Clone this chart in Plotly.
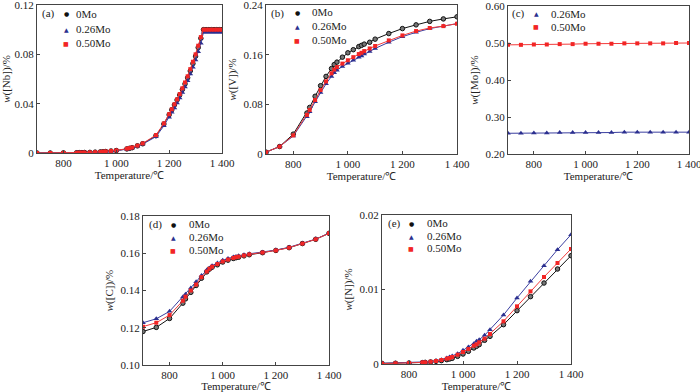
import plotly.graph_objects as go

W, H = 700, 392

# ---------------- data ----------------
T = [700, 750, 800, 850, 860, 880, 900, 920, 940, 950, 960, 980, 1000, 1020,
     1040, 1050, 1060, 1080, 1100, 1150, 1200, 1250, 1300, 1350, 1400]

T_nb = [700, 750, 800, 850, 860, 870, 880, 900, 920, 940, 950, 960, 980, 1000,
        1040, 1050, 1060, 1080, 1100, 1150, 1180, 1200, 1210, 1220, 1230, 1240,
        1250, 1260, 1270, 1280, 1290, 1300, 1310, 1320, 1330, 1340, 1350, 1360,
        1370, 1380, 1390, 1400]
nb_0 = [0, 0, 0.0001, 0.0002, 0.0003, 0.0003, 0.0004, 0.0005, 0.0007, 0.0009,
        0.0010, 0.0012, 0.0016, 0.0020, 0.0033, 0.0038, 0.0043, 0.0058, 0.0075,
        0.0140, 0.0235, 0.0310, 0.0350, 0.0390, 0.0430, 0.0470, 0.0515, 0.0560,
        0.0610, 0.0665, 0.0725, 0.0785, 0.0855, 0.0930, 0.1000, 0.1000, 0.1000,
        0.1000, 0.1000, 0.1000, 0.1000, 0.1000]
nb_26 = [0, 0, 0.0001, 0.0002, 0.0002, 0.0003, 0.0003, 0.0004, 0.0006, 0.0008,
         0.0009, 0.0011, 0.0015, 0.0019, 0.0031, 0.0036, 0.0041, 0.0055, 0.0072,
         0.0132, 0.0220, 0.0290, 0.0330, 0.0365, 0.0405, 0.0445, 0.0490, 0.0535,
         0.0585, 0.0640, 0.0695, 0.0755, 0.0820, 0.0890, 0.0980, 0.0980, 0.0980,
         0.0980, 0.0980, 0.0980, 0.0980, 0.0980]
nb_50 = [0, 0, 0.0001, 0.0002, 0.0003, 0.0003, 0.0004, 0.0005, 0.0007, 0.0009,
         0.0011, 0.0013, 0.0017, 0.0021, 0.0035, 0.0040, 0.0045, 0.0060, 0.0078,
         0.0145, 0.0240, 0.0315, 0.0355, 0.0395, 0.0435, 0.0478, 0.0525, 0.0572,
         0.0622, 0.0680, 0.0740, 0.0800, 0.0870, 0.0940, 0.1000, 0.1000, 0.1000,
         0.1000, 0.1000, 0.1000, 0.1000, 0.1000]

v_0 = [0.003, 0.012, 0.032, 0.066, 0.075, 0.093, 0.110, 0.125, 0.1376, 0.144,
       0.148, 0.156, 0.163, 0.168, 0.173, 0.175, 0.177, 0.180, 0.185, 0.194,
       0.202, 0.208, 0.2136, 0.2176, 0.221]
v_26 = [0.003, 0.012, 0.029, 0.060, 0.068, 0.084, 0.099, 0.113, 0.125, 0.131,
        0.135, 0.141, 0.146, 0.151, 0.156, 0.158, 0.161, 0.165, 0.170, 0.180,
        0.189, 0.196, 0.202, 0.206, 0.210]
v_50 = [0.003, 0.012, 0.030, 0.063, 0.071, 0.087, 0.103, 0.117, 0.130, 0.136,
        0.140, 0.1456, 0.151, 0.156, 0.161, 0.163, 0.1658, 0.170, 0.174, 0.183,
        0.191, 0.198, 0.203, 0.206, 0.210]

T_mo = [700, 750, 800, 850, 900, 950, 1000, 1050, 1100, 1150, 1200, 1250, 1300,
        1350, 1400]
mo_26 = [0.256, 0.256, 0.257, 0.257, 0.258, 0.258, 0.258, 0.258, 0.258, 0.259,
         0.259, 0.259, 0.259, 0.259, 0.259]
mo_50 = [0.495, 0.495, 0.496, 0.496, 0.497, 0.497, 0.498, 0.498, 0.498, 0.499,
         0.499, 0.499, 0.499, 0.500, 0.500]

c_0 = [0.118, 0.1202, 0.125, 0.1332, 0.1355, 0.139, 0.1427, 0.1466, 0.150,
       0.1515, 0.1525, 0.1538, 0.1553, 0.1563, 0.1572, 0.1576, 0.1579, 0.1586,
       0.1592, 0.1603, 0.1615, 0.1630, 0.1652, 0.1675, 0.1707]
c_26 = [0.1227, 0.1248, 0.1288, 0.1365, 0.138, 0.1413, 0.1447, 0.148, 0.151,
        0.152, 0.1533, 0.1548, 0.1562, 0.1572, 0.158, 0.1583, 0.1586, 0.1592,
        0.1597, 0.1606, 0.1617, 0.1632, 0.1653, 0.1676, 0.1708]
c_50 = [0.1206, 0.1227, 0.1268, 0.1345, 0.1367, 0.140, 0.1432, 0.1472, 0.1502,
        0.1517, 0.1528, 0.1542, 0.1556, 0.1566, 0.1575, 0.1579, 0.1582, 0.1588,
        0.1594, 0.1604, 0.1615, 0.1630, 0.1652, 0.1675, 0.1707]

n_0 = [0.00008, 0.0001, 0.00013, 0.00018, 0.00022, 0.00027, 0.00036, 0.00045,
       0.00058, 0.00067, 0.00076, 0.00103, 0.00134, 0.0017, 0.00215, 0.00237,
       0.0026, 0.00318, 0.00371, 0.00528, 0.00716, 0.00904, 0.01087, 0.01275,
       0.01454]
n_26 = [0.0001, 0.00013, 0.00018, 0.00022, 0.00022, 0.00031, 0.00045, 0.00058,
        0.0008, 0.00094, 0.00107, 0.00139, 0.00183, 0.00228, 0.00273, 0.00304,
        0.00327, 0.00385, 0.00461, 0.00658, 0.00886, 0.0111, 0.0132, 0.01535,
        0.01736]
n_50 = [0.00006, 0.0001, 0.00013, 0.00022, 0.00022, 0.00031, 0.0004, 0.00054,
        0.00072, 0.0008, 0.00094, 0.00125, 0.00161, 0.00201, 0.00246, 0.00264,
        0.00291, 0.0034, 0.00403, 0.00573, 0.00774, 0.00975, 0.01168, 0.01356,
        0.01544]

x_ticks = [800, 1000, 1200, 1400]
x_ticktext = ["800", "1 000", "1 200", "1 400"]

panels = [
    dict(tag="(a)", ytitle="<i>w</i>([Nb])/%", yrange=[0, 0.12],
         yticks=[0, 0.04, 0.08, 0.12], yticktext=["0", "0.04", "0.08", "0.12"],
         series=[("0Mo", T_nb, nb_0), ("0.26Mo", T_nb, nb_26), ("0.50Mo", T_nb, nb_50)]),
    dict(tag="(b)", ytitle="<i>w</i>([V])/%", yrange=[0, 0.24],
         yticks=[0, 0.08, 0.16, 0.24], yticktext=["0", "0.08", "0.16", "0.24"],
         series=[("0Mo", T, v_0), ("0.26Mo", T, v_26), ("0.50Mo", T, v_50)]),
    dict(tag="(c)", ytitle="<i>w</i>([Mo])/%", yrange=[0.2, 0.6],
         yticks=[0.2, 0.3, 0.4, 0.5, 0.6],
         yticktext=["0.20", "0.30", "0.40", "0.50", "0.60"],
         series=[("0.26Mo", T_mo, mo_26), ("0.50Mo", T_mo, mo_50)]),
    dict(tag="(d)", ytitle="<i>w</i>([C])/%", yrange=[0.1, 0.18],
         yticks=[0.10, 0.12, 0.14, 0.16, 0.18],
         yticktext=["0.10", "0.12", "0.14", "0.16", "0.18"],
         series=[("0Mo", T, c_0), ("0.26Mo", T, c_26), ("0.50Mo", T, c_50)]),
    dict(tag="(e)", ytitle="<i>w</i>([N])/%", yrange=[0, 0.02],
         yticks=[0, 0.01, 0.02], yticktext=["0", "0.01", "0.02"],
         series=[("0Mo", T, n_0), ("0.26Mo", T, n_26), ("0.50Mo", T, n_50)]),
]

# ---------------- styling ----------------
FONT = "Liberation Serif, Times New Roman, serif"
GLYPH_FONT = "DejaVu Sans, sans-serif"
styles = {
    "0Mo": dict(symbol="circle", glyph="●", gsize=6, mcolor="#111111",
                fill="#777777", lcolor="#111111", size=4.5),
    "0.26Mo": dict(symbol="triangle-up", glyph="▲", gsize=6, mcolor="#2b2f8f",
                   fill="#2b2f8f", lcolor="#3b3fa0", size=5),
    "0.50Mo": dict(symbol="square", glyph="■", gsize=6, mcolor="#f22525",
                   fill="#f22525", lcolor="#f23a3a", size=4),
}

# plot boxes in pixels: (left, top, right, bottom)
boxes = [(37, 5, 222, 153), (266, 5, 457, 154), (508, 6, 689, 154),
         (143, 216, 329, 365), (382, 215, 571, 364)]
# legend: symbol x, text x, row y's
legends = [(66, 74, [14, 29, 43]), (297, 310, [12, 26, 40]),
           (536, 549, [14, 27]), (173, 187, [224, 237, 250]),
           (411, 425, [223, 236, 248])]
tag_pos = [(40, 14), (269, 13), (510, 14), (147, 224), (386, 223)]

fig = go.Figure()
layout = dict(width=W, height=H, margin=dict(l=0, r=0, t=0, b=0),
              paper_bgcolor="white", plot_bgcolor="white", showlegend=False,
              font=dict(family=FONT, size=11, color="#222222"),
              annotations=[])

for i, p in enumerate(panels):
    n = i + 1
    sfx = "" if n == 1 else str(n)
    xa, ya = "x" + sfx, "y" + sfx
    for name, xs, ys in p["series"]:
        st = styles[name]
        fig.add_trace(go.Scatter(
            x=xs, y=ys, mode="lines+markers", xaxis=xa, yaxis=ya,
            line=dict(color=st["lcolor"], width=1),
            marker=dict(symbol=st["symbol"], size=st["size"], color=st["fill"],
                        line=dict(width=1 if name == "0Mo" else 0,
                                  color=st["mcolor"])),
            showlegend=False, name=name))
    l, t, r, b = boxes[i]
    common = dict(ticks="inside", ticklen=3, tickcolor="#444", showline=True,
                  linecolor="#444", linewidth=1, mirror=True, showgrid=False,
                  zeroline=False, automargin=False, ticklabeloverflow="allow",
                  tickfont=dict(family=FONT, size=11, color="#222"))
    layout["xaxis" + sfx] = dict(
        domain=[l / W, r / W], anchor=ya, range=[700, 1400],
        tickvals=x_ticks, ticktext=x_ticktext,
        title=dict(text="Temperature/℃", font=dict(family=FONT, size=11), standoff=2),
        **common)
    layout["yaxis" + sfx] = dict(
        domain=[1 - b / H, 1 - t / H], anchor=xa, range=p["yrange"],
        tickvals=p["yticks"], ticktext=p["yticktext"],
        title=dict(text=p["ytitle"], font=dict(family=FONT, size=11), standoff=4),
        **common)
    # legend entries (symbol glyph + name)
    sx, txx, rows = legends[i]
    for (name, _, _), ry in zip(p["series"], rows):
        st = styles[name]
        layout["annotations"].append(dict(
            text=st["glyph"], xref="paper", yref="paper", x=sx / W, y=1 - ry / H,
            xanchor="center", yanchor="middle", showarrow=False,
            font=dict(family=GLYPH_FONT, size=st["gsize"], color=st["mcolor"])))
        layout["annotations"].append(dict(
            text=name, xref="paper", yref="paper", x=txx / W, y=1 - ry / H,
            xanchor="left", yanchor="middle", showarrow=False,
            font=dict(family=FONT, size=11, color="#222")))
    tx, ty = tag_pos[i]
    layout["annotations"].append(dict(
        text=p["tag"], xref="paper", yref="paper", x=tx / W, y=1 - ty / H,
        xanchor="left", yanchor="middle", showarrow=False,
        font=dict(family=FONT, size=11, color="#222")))

fig.update_layout(**layout)
fig.write_html("out.html", config={"displayModeBar": False},
               post_script="document.body.style.margin='0';")
